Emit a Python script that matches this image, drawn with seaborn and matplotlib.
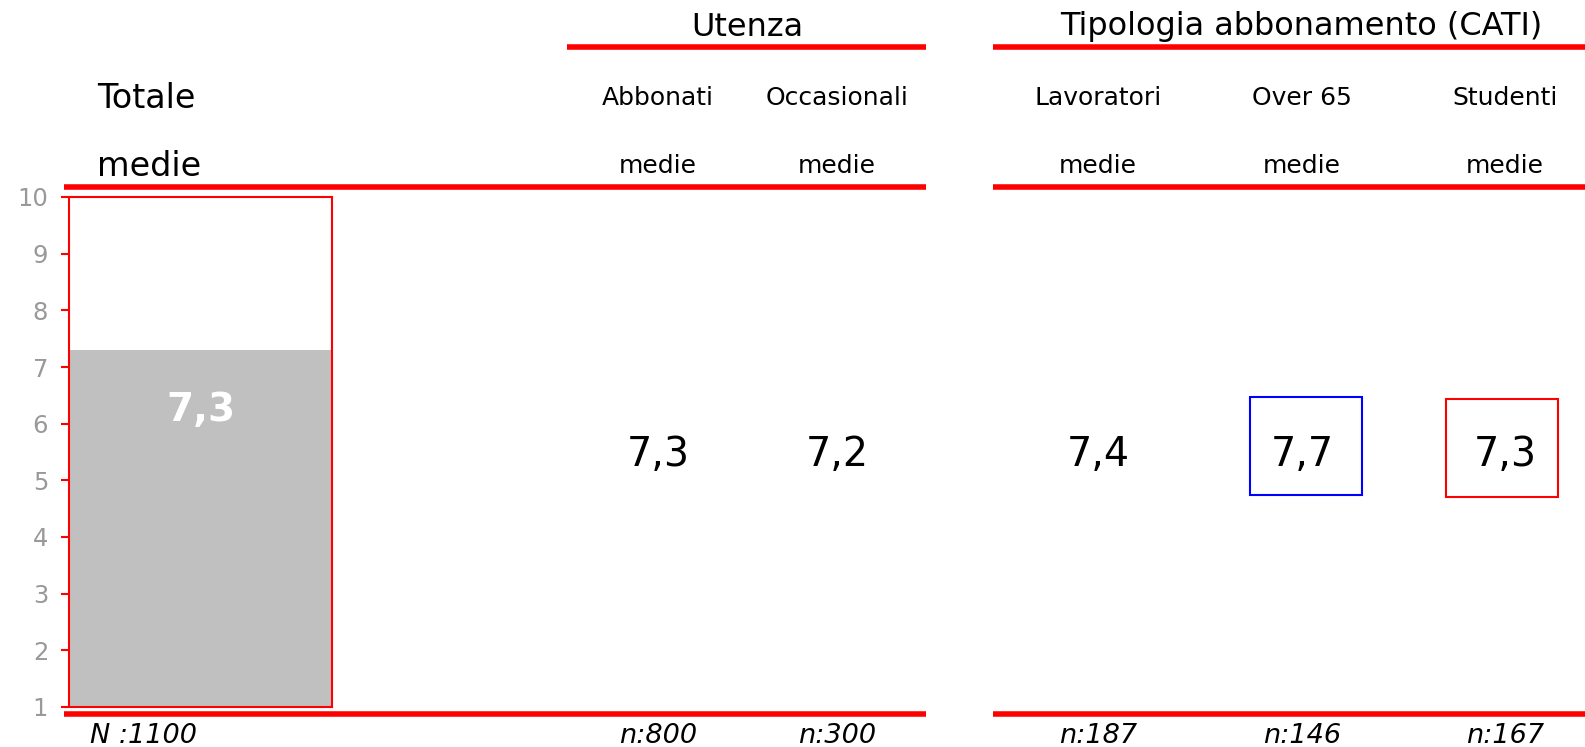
import numpy as np
import pandas as pd
import seaborn as sns
import matplotlib.pyplot as plt
from matplotlib.patches import Rectangle

# data
total_label = "Totale"
total_mean = 7.3
total_n = 1100
group_names = ["Utenza", "Tipologia abbonamento (CATI)"]
columns = ["Abbonati", "Occasionali", "Lavoratori", "Over 65", "Studenti"]
means = [7.3, 7.2, 7.4, 7.7, 7.3]
n_obs = [800, 300, 187, 146, 167]
y_ticks = list(range(1, 11))

# layout (pixels in a 1585x747 figure)
W, H = 1585, 747
col_x = [658, 837, 1098, 1302, 1505]
group_spans = [(567, 926), (993, 1585)]
group_x = [747, 1301]
box_left = [None, None, None, 1250, 1446]
box_top = [None, None, None, 397, 399]
box_colors = [None, None, None, "blue", "red"]
RED = "#ff0000"
GRAY_TXT = "#999999"

sns.set_style("white")
plt.rcParams['font.family'] = ['DejaVu Sans']
plt.rcParams['text.color'] = 'black'

fig = plt.figure(figsize=(W / 100, H / 100), dpi=100)

# overlay in pixel coordinates for the table part
ov = fig.add_axes([0, 0, 1, 1])
ov.set_xlim(0, W)
ov.set_ylim(H, 0)
ov.axis("off")

# section lines
ov.hlines(47, group_spans[0][0], group_spans[0][1], color=RED, lw=4)
ov.hlines(47, group_spans[1][0], group_spans[1][1], color=RED, lw=4)
for yy in (187, 714):
    ov.hlines(yy, 64, 926, color=RED, lw=4)
    ov.hlines(yy, 993, W, color=RED, lw=4)

for name, gx in zip(group_names, group_x):
    ov.text(gx, 27, name, ha="center", va="center", fontsize=23)

ov.text(97, 98, total_label, ha="left", va="center", fontsize=24)
ov.text(97, 166, "medie", ha="left", va="center", fontsize=24)
ov.text(143, 736, f"N :{total_n}", ha="center", va="center", fontsize=19.5, style="italic")

for i, (name, cx, m, n) in enumerate(zip(columns, col_x, means, n_obs)):
    ov.text(cx, 98, name, ha="center", va="center", fontsize=18)
    ov.text(cx, 166, "medie", ha="center", va="center", fontsize=18)
    ov.text(cx, 455, f"{m:.1f}".replace(".", ","), ha="center", va="center", fontsize=28.5)
    ov.text(cx, 736, f"n:{n}", ha="center", va="center", fontsize=19.5, style="italic")
    if box_colors[i]:
        ov.add_patch(Rectangle((box_left[i], box_top[i]), 112, 98, fill=False,
                               edgecolor=box_colors[i], lw=1.5))

# bar for the total
ax = fig.add_axes([69 / W, (H - 707) / H, (332 - 69) / W, (707 - 197) / H])
df = pd.DataFrame({"group": [total_label], "media": [total_mean]})
sns.barplot(data=df, x="group", y="media", color="#c0c0c0", saturation=1,
            width=1.0, linewidth=0, ax=ax)
ax.set_xlim(-0.5, 0.5)
ax.set_ylim(1, 10)
ax.set_yticks(y_ticks)
ax.set_xticks([])
ax.set_xlabel("")
ax.set_ylabel("")
for s in ax.spines.values():
    s.set_visible(True)
    s.set_color(RED)
    s.set_linewidth(1.5)
ax.tick_params(axis="y", left=True, length=6, width=1.5, color=RED,
               labelcolor=GRAY_TXT, labelsize=17.5, pad=9)
ax.text(0, total_mean - 1.06, f"{total_mean:.1f}".replace(".", ","),
        ha="center", va="center", color="white", fontsize=28, fontweight="bold")

fig.savefig("out.png", dpi=100)
